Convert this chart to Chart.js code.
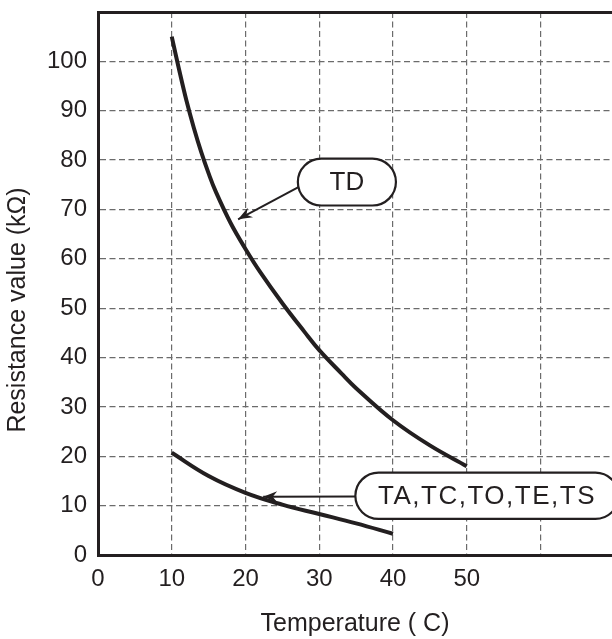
<!DOCTYPE html>
<html>
<head>
<meta charset="utf-8">
<script src="https://cdn.jsdelivr.net/npm/chart.js@4"></script>
<style>
  html, body { margin: 0; padding: 0; background: #fff; }
  #wrap { width: 612px; height: 639px; position: relative; }
</style>
</head>
<body>
<div id="wrap"><canvas id="thermistorChart"></canvas></div>
<script>
// curve readings (temperature in C, resistance in kOhm)
const tdTemp = [10, 11, 12, 13, 14, 15, 16, 18, 20, 22, 25, 28, 30, 33, 35, 40, 45, 50];
const tdRes  = [105, 98.3, 92, 86.5, 81.6, 77.3, 73.5, 67.2, 62, 57.3, 51, 45.2, 41.5, 36.8, 33.8, 27.3, 22.2, 18];
const taTemp = [10, 15, 20, 25, 30, 35, 40];
const taRes  = [20.7, 16.0, 12.6, 10.2, 8.3, 6.4, 4.3];

const xTicks = [0, 10, 20, 30, 40, 50];
const yTicks = [0, 10, 20, 30, 40, 50, 60, 70, 80, 90, 100];

const ink = '#231f20';
const font = "'Liberation Sans', Arial, Helvetica, sans-serif";

function toPoints(xs, ys) {
  return xs.map(function(x, i) { return { x: x, y: ys[i] }; });
}

// label callouts: box corners and arrow tip in data units
const callouts = [
  { text: 'TD', box: [27.1, 40.4, 70.8, 80.3], tip: [19.0, 68.0], from: 0.59, spacing: '0px' },
  { text: 'TA,TC,TO,TE,TS', box: [34.9, 70.6, 7.3, 16.7], tip: [22.4, 11.8], from: 0.515, spacing: '1.5px' }
];

function arrowHead(ctx, x0, y0, x1, y1) {
  const a = Math.atan2(y1 - y0, x1 - x0);
  const len = 14, half = 5.5;
  ctx.save();
  ctx.translate(x1, y1);
  ctx.rotate(a);
  ctx.beginPath();
  ctx.moveTo(0, 0);
  ctx.lineTo(-len, -half);
  ctx.lineTo(-len + 4.5, 0);
  ctx.lineTo(-len, half);
  ctx.closePath();
  ctx.fill();
  ctx.restore();
}

const calloutPlugin = {
  id: 'callouts',
  afterDatasetsDraw: function(chart) {
    const ctx = chart.ctx;
    const xs = chart.scales.x, ys = chart.scales.y;
    ctx.save();
    callouts.forEach(function(c) {
      const l = xs.getPixelForValue(c.box[0]);
      const r = xs.getPixelForValue(c.box[1]);
      const b = ys.getPixelForValue(c.box[2]);
      const t = ys.getPixelForValue(c.box[3]);
      const h = b - t, rad = h / 2;
      const tx = xs.getPixelForValue(c.tip[0]);
      const ty = ys.getPixelForValue(c.tip[1]);
      const sy = t + h * c.from;

      // leader line + arrow
      ctx.strokeStyle = ink;
      ctx.fillStyle = ink;
      ctx.lineWidth = 2;
      ctx.beginPath();
      ctx.moveTo(l + 2, sy);
      ctx.lineTo(tx, ty);
      ctx.stroke();
      arrowHead(ctx, l, sy, tx, ty);

      // pill box
      ctx.beginPath();
      ctx.roundRect(l, t, r - l, h, rad);
      ctx.fillStyle = '#fff';
      ctx.fill();
      ctx.lineWidth = 2.2;
      ctx.stroke();

      ctx.fillStyle = ink;
      ctx.font = '26px ' + font;
      ctx.letterSpacing = c.spacing;
      ctx.textAlign = 'center';
      ctx.textBaseline = 'middle';
      ctx.fillText(c.text, (l + r) / 2, t + h / 2 + 1);
      ctx.letterSpacing = '0px';
    });
    ctx.restore();
  },
  afterDraw: function(chart) {
    // y axis title, sits a little below the middle of the plot
    const ctx = chart.ctx;
    ctx.save();
    ctx.translate(18, 310);
    ctx.rotate(-Math.PI / 2);
    ctx.font = '25px ' + font;
    ctx.fillStyle = ink;
    ctx.textAlign = 'center';
    ctx.textBaseline = 'middle';
    ctx.fillText('Resistance value (k\u03A9)', 0, 0);
    ctx.restore();
  }
};

const ctx = document.getElementById('thermistorChart').getContext('2d');
const chart = new Chart(ctx, {
  type: 'line',
  data: {
    datasets: [
      {
        label: 'TD',
        data: toPoints(tdTemp, tdRes),
        borderColor: ink,
        borderWidth: 4,
        pointRadius: 0,
        tension: 0.4,
        fill: false
      },
      {
        label: 'TA,TC,TO,TE,TS',
        data: toPoints(taTemp, taRes),
        borderColor: ink,
        borderWidth: 4,
        pointRadius: 0,
        tension: 0.4,
        fill: false
      }
    ]
  },
  options: {
    responsive: true,
    maintainAspectRatio: false,
    animation: false,
    layout: { padding: { top: 12, right: 0, left: 0, bottom: 0 } },
    plugins: {
      legend: { display: false },
      tooltip: { enabled: false }
    },
    scales: {
      x: {
        type: 'linear',
        min: 0,
        max: 69.7,
        afterFit: function(scale) { scale.height = 84; scale.paddingRight = 0; scale.paddingLeft = 0; },
        ticks: {
          stepSize: 10,
          includeBounds: false,
          padding: 10,
          maxRotation: 0,
          color: ink,
          font: { family: font, size: 24 },
          callback: function(v) { return xTicks.indexOf(v) >= 0 ? String(v) : ''; }
        },
        grid: {
          drawTicks: false,
          color: '#6b6b6b',
          lineWidth: 1.2
        },
        border: { display: true, color: ink, width: 3, dash: [6, 3.5] },
        title: {
          display: true,
          text: 'Temperature ( C)',
          color: ink,
          font: { family: font, size: 25 },
          padding: { top: 2, bottom: 0 }
        }
      },
      y: {
        type: 'linear',
        min: 0,
        max: 110,
        afterFit: function(scale) { scale.width = 98; scale.paddingTop = 0; scale.paddingBottom = 0; },
        ticks: {
          stepSize: 10,
          padding: 11,
          color: ink,
          font: { family: font, size: 24 },
          callback: function(v) { return yTicks.indexOf(v) >= 0 ? String(v) : ''; }
        },
        grid: {
          drawTicks: false,
          color: function(c) { return c.tick && c.tick.value === 110 ? ink : '#6b6b6b'; },
          lineWidth: function(c) { return c.tick && c.tick.value === 110 ? 3 : 1.2; }
        },
        border: {
          display: true,
          color: ink,
          width: 3,
          dash: function(c) { return c.tick && c.tick.value === 110 ? [] : [6, 3.5]; }
        }
      }
    }
  },
  plugins: [calloutPlugin]
});
</script>
</body>
</html>
